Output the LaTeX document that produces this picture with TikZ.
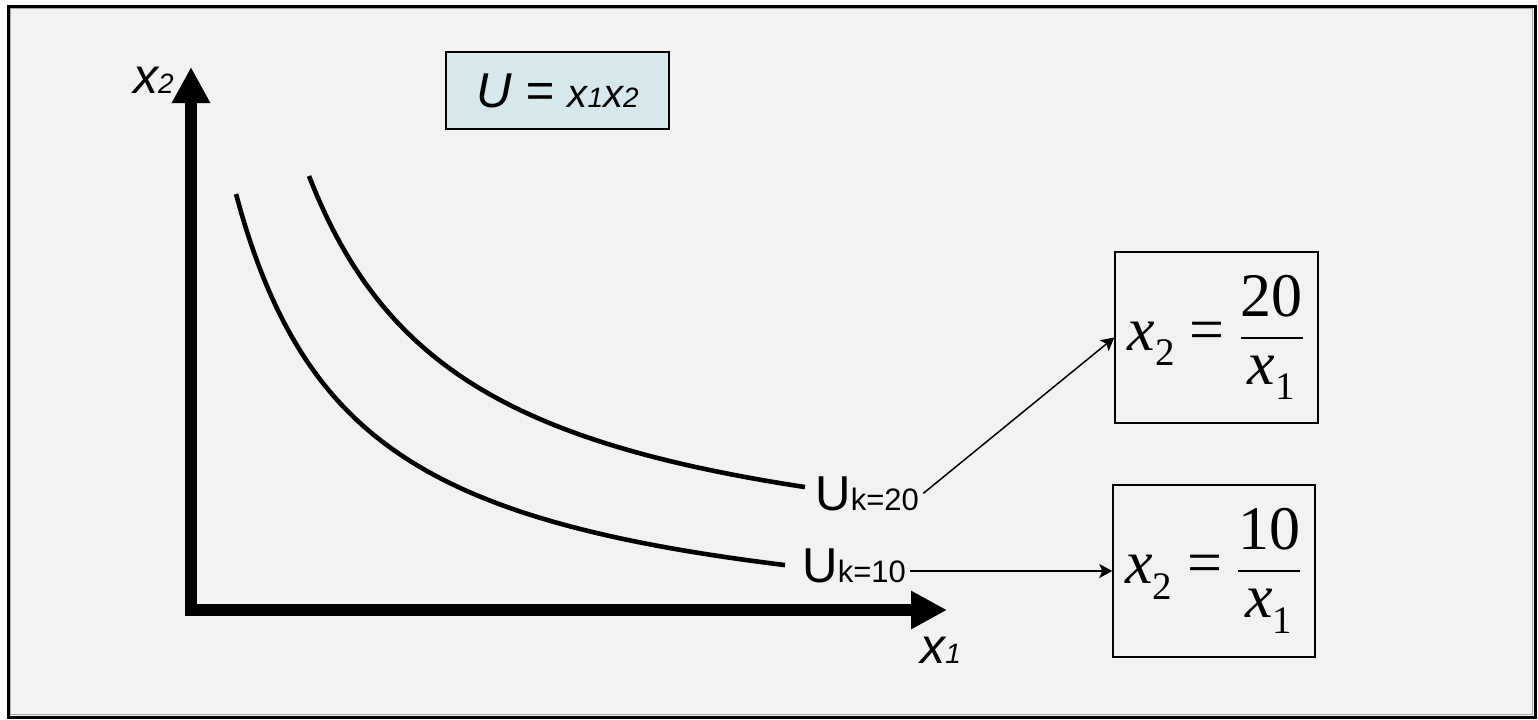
\documentclass[tikz,border=0pt]{standalone}
\usepackage{amsmath}
\usepackage{fontspec}
\setmainfont{Liberation Sans}
\newfontfamily\timesfont{Liberation Serif}
\DeclareMathSizes{31}{31}{17.5}{14}
\usetikzlibrary{arrows.meta}
\colorlet{axiscol}{black}
\definecolor{framecol}{RGB}{242,242,242}
\definecolor{ufuncol}{RGB}{214,232,235}
\newcommand{\fsz}[1]{\fontsize{#1}{#1}\selectfont}
\newcommand{\tx}[1]{\text{\itshape #1}}
\newcommand{\tsub}[1]{\raisebox{-4pt}{\fsz{19.5}#1}}
\tikzset{
  axis/.style={line width=5.75pt, axiscol, line join=miter,
    {Triangle[length=18pt,width=18pt]}-{Triangle[length=18pt,width=18pt]}},
  axislab/.style={inner sep=0pt, font=\fsz{25}\itshape},
  icurve/.style={line width=2.3pt, smooth, samples=80},
  curvelab/.style={inner sep=2pt, font=\fsz{24.5}},
  conn/.style={line width=0.75pt, -{Stealth[length=6.5pt,width=7pt,inset=1.5pt]}},
  ufunbox/.style={draw, line width=1pt, fill=ufuncol, inner sep=0pt,
    minimum width=111.5pt, minimum height=38.5pt, font=\fsz{24.5}\itshape},
  solbox/.style={draw, line width=0.75pt, inner sep=0pt, font=\timesfont\fsz{31}}
}

\begin{document}
\begin{tikzpicture}[x=0.5pt, y=-0.5pt, >=Stealth]

  % Canvas and slide frame.
  \useasboundingbox (0,0) rectangle (1538,719);
  \fill[white] (0,0) rectangle (1538,719);
  \draw[line width=1.5pt, fill=framecol] (8,6) rectangle (1535,717);
  \draw[gray!70, line width=0.75pt] (10.5,8.5) rectangle (1532.5,714.5);

  % Axes.
  \coordinate (O) at (191,610);
  \coordinate (ytip) at (191,67);
  \coordinate (xtip) at (947,610);
  \draw[axis] (ytip) -- (O) -- (xtip);
  \node[axislab, anchor=base east] (lx2) at (174,93) {x{\fsz{14}2}};
  \node[axislab, anchor=base west] (lx1) at (920,663) {x{\fsz{14}1}};

  % Utility function.
  \node[ufunbox] (ufun) at (557.5,90.5)
    {U = {\fsz{20}x}{\fsz{14}1}{\fsz{20}x}{\fsz{14}2}};

  % Indifference curves (hyperbolas).
  \draw[icurve, domain=309:805] plot (\x, {587.4 - 658.19/((\x-149)/100)});
  \draw[icurve, domain=236:785] plot (\x, {647.1 - 550.01/((\x-114.6)/100)});

  % Curve labels.
  \node[curvelab, anchor=base west] (u20) at (811,510) {U{\fsz{15.5}k=20}};
  \node[curvelab, anchor=base west] (u10) at (798,582) {U{\fsz{15.5}k=10}};

  % Solved forms.
  \node[solbox, minimum width=101.5pt, minimum height=85.5pt] (box20)
    at (1216.5,337.5)
    {$\tx{x}_{\tsub{2}} \mathrel{\text{=}} \dfrac{\text{20}}{\tx{x}_{\tsub{1}}}$};
  \node[solbox, minimum width=101pt, minimum height=86pt] (box10)
    at (1214,571)
    {$\tx{x}_{\tsub{2}} \mathrel{\text{=}} \dfrac{\text{10}}{\tx{x}_{\tsub{1}}}$};

  % Connectors.
  \draw[conn] (u20.east) -- (box20.west);
  \draw[conn] (box10.west -| u10.east) -- (box10.west);

\end{tikzpicture}
\end{document}
